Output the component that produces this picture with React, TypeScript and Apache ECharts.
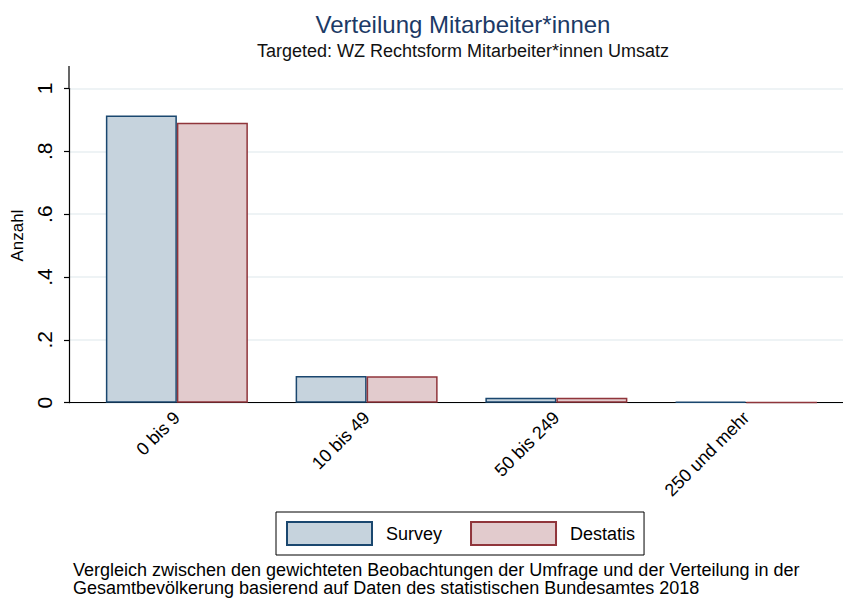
import React, { useEffect, useRef } from "react";
import * as echarts from "echarts";

const categories = ["0 bis 9", "10 bis 49", "50 bis 249", "250 und mehr"];
const surveyValues = [0.914, 0.085, 0.016, 0.003];
const destatisValues = [0.891, 0.084, 0.016, 0.001];
const yTicks = [0, 0.2, 0.4, 0.6, 0.8, 1];
const yTickLabels = ["0", ".2", ".4", ".6", ".8", "1"];

const FONT = "'Liberation Sans', Arial, sans-serif";

export default function App() {
  const ref = useRef<HTMLDivElement>(null);
  useEffect(() => {
    if (!ref.current) return;
    const chart = echarts.init(ref.current, null, { renderer: "svg" });
    const top = 88.5;
    const bottom = 195.3;
    chart.setOption({
      animation: false,
      backgroundColor: "#ffffff",
      textStyle: { fontFamily: FONT },
      title: {
        text: "Verteilung Mitarbeiter*innen",
        subtext: "Targeted: WZ Rechtsform Mitarbeiter*innen Umsatz",
        left: 458,
        top: 7,
        textAlign: "center",
        itemGap: 6,
        textStyle: { fontFamily: FONT, fontSize: 24, fontWeight: "normal", color: "#1c3a66" },
        subtextStyle: { fontFamily: FONT, fontSize: 18, color: "#111111" },
      },
      legend: {
        left: 276,
        top: 512,
        orient: "horizontal",
        padding: [9, 9, 9, 10],
        borderColor: "#000000",
        borderWidth: 1,
        itemWidth: 85,
        itemHeight: 23,
        itemGap: 28,
        icon: "rect",
        textStyle: { fontFamily: FONT, fontSize: 18, color: "#000000", padding: [0, 0, 0, 9] },
        data: ["Survey", "Destatis"],
      },
      grid: [
        { left: 69, right: 0, top, bottom, containLabel: false },
        { left: 82, right: 2, top, bottom, containLabel: false },
      ],
      xAxis: [
        {
          gridIndex: 0,
          type: "value",
          min: 0,
          max: 1,
          axisLine: { show: true, onZero: false, lineStyle: { color: "#000000", width: 1.2 } },
          axisTick: { show: false },
          axisLabel: { show: false },
          splitLine: { show: false },
        },
        {
          gridIndex: 1,
          type: "category",
          data: categories,
          axisLine: { show: false },
          axisTick: { show: false },
          axisLabel: {
            rotate: 45,
            margin: 12,
            fontFamily: FONT,
            fontSize: 18,
            color: "#000000",
          },
        },
      ],
      yAxis: [
        {
          gridIndex: 0,
          type: "value",
          min: 0,
          max: 1,
          interval: 0.2,
          name: "Anzahl",
          nameLocation: "middle",
          nameGap: 41,
          nameRotate: 90,
          nameTextStyle: { fontFamily: FONT, fontSize: 17, color: "#000000", padding: [0, 0, 0, 20] },
          axisLine: { show: true, lineStyle: { color: "#000000", width: 1.2 } },
          axisTick: { show: true, length: 5, lineStyle: { color: "#000000", width: 1.2 } },
          axisLabel: {
            rotate: 90,
            margin: 14,
            fontFamily: FONT,
            fontSize: 21,
            color: "#000000",
            formatter: (v: number) => {
              const i = yTicks.findIndex((t) => Math.abs(t - v) < 1e-6);
              return i >= 0 ? yTickLabels[i] : "";
            },
          },
          splitLine: { show: true, lineStyle: { color: "#e8eff2", width: 1.5 } },
        },
        {
          gridIndex: 1,
          type: "value",
          min: 0,
          max: 1,
          show: false,
        },
      ],
      series: [
        {
          name: "Survey",
          type: "bar",
          xAxisIndex: 1,
          yAxisIndex: 1,
          data: surveyValues,
          barWidth: 71,
          barGap: "0%",
          itemStyle: { color: "#c6d3dd", borderColor: "#1a476f", borderWidth: 1.5 },
        },
        {
          name: "Destatis",
          type: "bar",
          xAxisIndex: 1,
          yAxisIndex: 1,
          data: destatisValues,
          barWidth: 71,
          barGap: "0%",
          itemStyle: { color: "#e2cbcd", borderColor: "#90353b", borderWidth: 1.5 },
        },
      ],
      graphic: [
        {
          type: "line",
          shape: { x1: 69, y1: 66, x2: 69, y2: top },
          style: { stroke: "#000000", lineWidth: 1.2 },
          silent: true,
        },
        {
          type: "text",
          left: 73,
          top: 561,
          style: {
            text:
              "Vergleich zwischen den gewichteten Beobachtungen der Umfrage und der Verteilung in der\nGesamtbevölkerung basierend auf Daten des statistischen Bundesamtes 2018",
            fontFamily: FONT,
            fontSize: 18,
            lineHeight: 18,
            fill: "#000000",
          },
        },
      ],
    });
    return () => chart.dispose();
  }, []);
  return <div ref={ref} style={{ width: 843, height: 598, position: "absolute", left: 0, top: 0 }} />;
}
